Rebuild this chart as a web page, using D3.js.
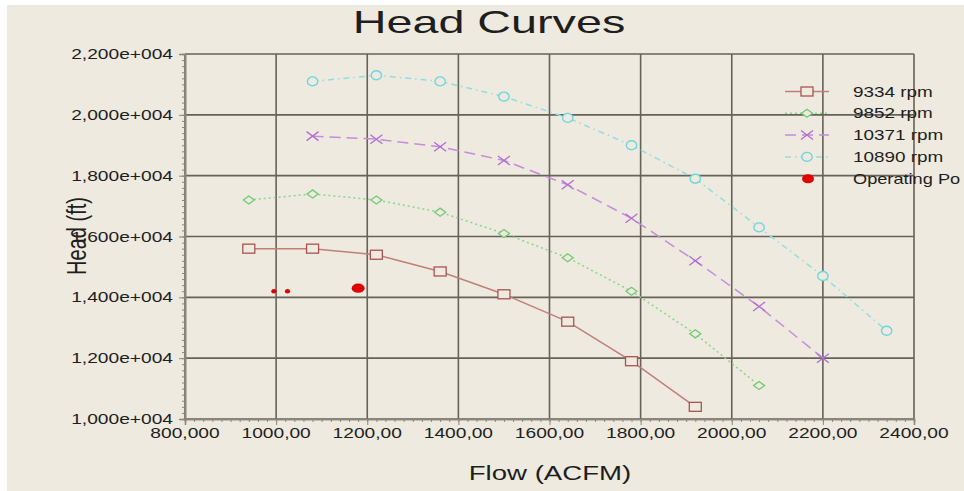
<!DOCTYPE html>
<html><head><meta charset="utf-8">
<script src="https://cdn.jsdelivr.net/npm/d3@7"></script>
<style>html,body{margin:0;padding:0;background:#fff;overflow:hidden}</style>
</head><body>
<svg id="c" width="964" height="491"></svg>
<script>
// ---- data ----
const flow9334  = [940,1080,1220,1360,1500,1640,1780,1920];
const head9334  = [15600,15600,15400,14850,14100,13200,11900,10400];
const flow9852  = [940,1080,1220,1360,1500,1640,1780,1920,2060];
const head9852  = [17200,17400,17200,16800,16100,15300,14200,12800,11100];
const flow10371 = [1080,1220,1360,1500,1640,1780,1920,2060,2200];
const head10371 = [19300,19200,18950,18500,17700,16600,15200,13700,12000];
const flow10890 = [1080,1220,1360,1500,1640,1780,1920,2060,2200,2340];
const head10890 = [21100,21300,21100,20600,19900,19000,17900,16300,14700,12900];
const opFlow = [995,1025,1180];
const opHead = [14200,14200,14300];
const seriesNames = ["9334 rpm","9852 rpm","10371 rpm","10890 rpm","Operating Po"];
const xTickValues = [800,1000,1200,1400,1600,1800,2000,2200,2400];
const xTickLabels = ["800,000","1000,00","1200,00","1400,00","1600,00","1800,00","2000,00","2200,00","2400,00"];
const yTickValues = [10000,12000,14000,16000,18000,20000,22000];
const yTickLabels = ["1,000e+004","1,200e+004","1,400e+004","1,600e+004","1,800e+004","2,000e+004","2,200e+004"];
const titleText = "Head Curves";
const xTitle = "Flow (ACFM)";
const yTitle = "Head (ft)";

// ---- styles ----
const opSizes = [[2.6,2.2],[2.6,2.2],[6.5,4.6]];
const styles = [
  {line:"#c07f78", mark:"#a9544f", dash:null, shape:"square"},
  {line:"#86d886", mark:"#74c874", dash:"2,3", shape:"diamond"},
  {line:"#c58bdc", mark:"#b06ed0", dash:"11,6", shape:"x"},
  {line:"#92dede", mark:"#6fd6de", dash:"6,4,1.5,4", shape:"circle"}
];
const BG = "#eeeadf";
const FONT = "'Liberation Sans', Arial, sans-serif";

const svg = d3.select("#c");
svg.append("rect").attr("x",7).attr("y",5).attr("width",957).attr("height",486).attr("fill",BG);

const x = d3.scaleLinear().domain([800,2400]).range([185,914]);
const y = d3.scaleLinear().domain([10000,22000]).range([419,54]);

function stext(g, px, py, txt, size, sx, anchor, weight){
  return g.append("text")
    .attr("transform",`translate(${px},${py}) scale(${sx},1)`)
    .attr("text-anchor",anchor).attr("font-family",FONT).attr("font-size",size)
    .attr("font-weight",weight||"normal")
    .attr("fill","#1e1e1e").text(txt);
}

// grid
const grid = svg.append("g");
grid.selectAll("line.v").data(xTickValues).join("line")
  .attr("x1",d=>x(d)).attr("x2",d=>x(d)).attr("y1",y(22000)).attr("y2",y(10000))
  .attr("stroke","#666259").attr("stroke-width",1.6);
grid.selectAll("line.h").data(yTickValues).join("line")
  .attr("y1",d=>y(d)).attr("y2",d=>y(d)).attr("x1",x(800)).attr("x2",x(2400))
  .attr("stroke","#666259").attr("stroke-width",1.6);

// axes with minor ticks
const axisColor = "#8a867d";
const yMinor = d3.range(10000,22001,200);
const xMinor = d3.range(800,2401,20);
svg.append("g").attr("transform",`translate(${x(800)},0)`)
  .call(d3.axisLeft(y).tickValues(yMinor).tickSize(3).tickFormat(""));
svg.append("g").attr("transform",`translate(${x(800)},0)`)
  .call(d3.axisLeft(y).tickValues(yTickValues).tickSize(6).tickFormat(""));
svg.append("g").attr("transform",`translate(0,${y(10000)})`)
  .call(d3.axisBottom(x).tickValues(xMinor).tickSize(3).tickFormat(""));
svg.append("g").attr("transform",`translate(0,${y(10000)})`)
  .call(d3.axisBottom(x).tickValues(xTickValues).tickSize(6).tickFormat(""));
svg.selectAll(".domain").attr("stroke",axisColor).attr("stroke-width",1.6);
svg.selectAll(".tick line").attr("stroke",axisColor).attr("stroke-width",1);

// tick labels
const lab = svg.append("g");
yTickValues.forEach((v,i)=> stext(lab, 173, y(v)+5, yTickLabels[i], 14, 1.37, "end"));
xTickValues.forEach((v,i)=> stext(lab, x(v), 438, xTickLabels[i], 14, 1.37, "middle"));

// titles
stext(svg, 489, 33, titleText, 32, 1.46, "middle");
stext(svg, 550, 480, xTitle, 20, 1.38, "middle");
svg.append("text").attr("transform","translate(86,236) rotate(-90) scale(1,1.38)")
  .attr("text-anchor","middle").attr("font-family",FONT).attr("font-size",20)
  .attr("fill","#1e1e1e").text(yTitle);

// markers
function drawMarker(g, cx, cy, st){
  if(st.shape==="square"){
    g.append("rect").attr("x",cx-6).attr("y",cy-4.5).attr("width",12).attr("height",9)
      .attr("fill",BG).attr("stroke",st.mark).attr("stroke-width",1.3);
  } else if(st.shape==="diamond"){
    g.append("path").attr("d",`M${cx-5.5},${cy}L${cx},${cy-4}L${cx+5.5},${cy}L${cx},${cy+4}Z`)
      .attr("fill",BG).attr("stroke",st.mark).attr("stroke-width",1.3);
  } else if(st.shape==="x"){
    g.append("path").attr("d",`M${cx-6},${cy-4.5}L${cx+6},${cy+4.5}M${cx-6},${cy+4.5}L${cx+6},${cy-4.5}`)
      .attr("fill","none").attr("stroke",st.mark).attr("stroke-width",1.3);
  } else {
    g.append("ellipse").attr("cx",cx).attr("cy",cy).attr("rx",5.2).attr("ry",4.5)
      .attr("fill",BG).attr("stroke",st.mark).attr("stroke-width",1.4);
  }
}

const allSeries = [[flow9334,head9334],[flow9852,head9852],[flow10371,head10371],[flow10890,head10890]];
const line = d3.line().x(d=>x(d[0])).y(d=>y(d[1])).curve(d3.curveLinear);
allSeries.forEach((s,i)=>{
  const pts = s[0].map((f,j)=>[f,s[1][j]]);
  const st = styles[i];
  const g = svg.append("g");
  g.append("path").datum(pts).attr("d",line).attr("fill","none")
    .attr("stroke",st.line).attr("stroke-width",1.5)
    .attr("stroke-dasharray",st.dash);
  pts.forEach(p=>drawMarker(g, x(p[0]), y(p[1]), st));
});

// operating points
const gop = svg.append("g");
opFlow.forEach((f,i)=>{
  gop.append("ellipse").attr("cx",x(f)).attr("cy",y(opHead[i]))
    .attr("rx",opSizes[i][0]).attr("ry",opSizes[i][1]).attr("fill","#e00000");
});

// legend
const leg = svg.append("g");
seriesNames.forEach((n,i)=>{
  const ly = 91.5 + i*21.8;
  if(i<4){
    const st = styles[i];
    leg.append("line").attr("x1",785).attr("x2",829).attr("y1",ly).attr("y2",ly)
      .attr("stroke",st.line).attr("stroke-width",1.5).attr("stroke-dasharray",st.dash);
    drawMarker(leg, 807, ly, st);
  } else {
    leg.append("ellipse").attr("cx",808).attr("cy",ly).attr("rx",6).attr("ry",4.5).attr("fill","#e00000");
  }
  stext(leg, 853, ly+5, n, 14, i<4 ? 1.35 : 1.3, "start");
});
</script>
</body></html>
